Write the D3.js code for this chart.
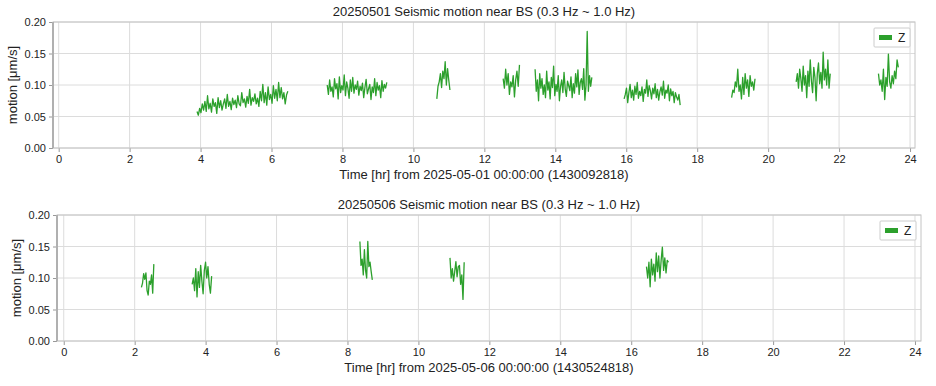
<!DOCTYPE html>
<html>
<head>
<meta charset="utf-8">
<script src="https://cdn.jsdelivr.net/npm/d3@7"></script>
<style>
  body { margin: 0; background: #fff; }
  svg text { font-family: "Liberation Sans", Arial, sans-serif; fill: #222; }
</style>
</head>
<body>
<div id="chart"></div>
<script>
// ---- data (hours from start of day, motion in um/s) ----
var yTicks = [0, 0.05, 0.10, 0.15, 0.20];
var xTicks = [0, 2, 4, 6, 8, 10, 12, 14, 16, 18, 20, 22, 24];

// day 1 : 2025-05-01, segment [start hr, end hr]
var day1Spans = [[3.90, 6.46], [7.57, 9.25], [10.66, 11.03], [12.53, 12.99], [13.43, 15.03],
                 [15.94, 17.52], [18.97, 19.63], [20.79, 21.75], [23.11, 23.67]];
var day1Values = [
  [0.058,0.052,0.063,0.056,0.070,0.060,0.074,0.058,0.083,0.062,0.071,0.057,0.078,0.066,0.072,0.055,0.080,0.064,0.075,0.060,
   0.070,0.078,0.063,0.085,0.066,0.074,0.061,0.079,0.069,0.076,0.064,0.083,0.070,0.067,0.088,0.072,0.078,0.065,0.082,0.071,
   0.093,0.068,0.080,0.074,0.086,0.070,0.079,0.066,0.090,0.075,0.101,0.072,0.088,0.068,0.097,0.077,0.085,0.071,0.099,0.079,
   0.093,0.075,0.104,0.080,0.096,0.078,0.088,0.070,0.084,0.090],
  [0.100,0.085,0.108,0.090,0.097,0.081,0.110,0.094,0.102,0.078,0.113,0.088,0.099,0.092,0.116,0.083,0.105,0.095,0.079,0.108,
   0.090,0.112,0.087,0.100,0.093,0.106,0.084,0.098,0.091,0.103,0.080,0.096,0.109,0.086,0.094,0.101,0.077,0.097,0.088,0.110,
   0.083,0.104,0.092,0.099,0.080,0.107,0.090,0.101,0.095,0.104],
  [0.078,0.098,0.105,0.118,0.096,0.122,0.110,0.137,0.100,0.126,0.108,0.092],
  [0.110,0.095,0.125,0.100,0.118,0.085,0.105,0.097,0.115,0.081,0.108,0.122,0.098,0.132],
  [0.125,0.090,0.108,0.075,0.118,0.095,0.110,0.085,0.100,0.080,0.122,0.092,0.105,0.078,0.112,0.096,0.130,0.083,0.101,0.090,
   0.115,0.075,0.098,0.108,0.088,0.120,0.094,0.082,0.106,0.099,0.091,0.113,0.080,0.102,0.087,0.118,0.097,0.124,0.085,0.104,
   0.110,0.093,0.126,0.076,0.100,0.185,0.090,0.115,0.098,0.112],
  [0.078,0.085,0.095,0.072,0.088,0.101,0.080,0.092,0.076,0.098,0.085,0.104,0.079,0.090,0.083,0.097,0.074,0.093,0.087,0.108,
   0.082,0.099,0.091,0.078,0.095,0.086,0.102,0.080,0.093,0.076,0.089,0.097,0.084,0.106,0.079,0.092,0.087,0.100,0.075,0.094,
   0.083,0.090,0.072,0.088,0.081,0.076,0.085,0.068],
  [0.080,0.092,0.088,0.105,0.097,0.125,0.090,0.100,0.078,0.112,0.085,0.118,0.095,0.108,0.082,0.115,0.098,0.105,0.092,0.110],
  [0.105,0.118,0.095,0.125,0.110,0.090,0.130,0.100,0.115,0.080,0.122,0.098,0.140,0.106,0.088,0.128,0.112,0.075,0.118,0.135,
   0.102,0.120,0.095,0.152,0.108,0.125,0.100,0.140,0.095,0.118],
  [0.118,0.100,0.108,0.090,0.125,0.077,0.112,0.098,0.149,0.105,0.095,0.115,0.102,0.122,0.110,0.140,0.128]
];

// day 2 : 2025-05-06
var day2Spans = [[2.19, 2.54], [3.62, 4.17], [8.35, 8.70], [10.89, 11.29], [16.43, 17.05]];
var day2Values = [
  [0.085,0.092,0.107,0.098,0.108,0.080,0.073,0.095,0.090,0.105,0.076,0.122],
  [0.090,0.100,0.080,0.115,0.070,0.110,0.085,0.120,0.095,0.075,0.112,0.125,0.100,0.118,0.090,0.076,0.103],
  [0.158,0.120,0.130,0.105,0.145,0.112,0.100,0.158,0.118,0.125,0.110,0.097],
  [0.132,0.100,0.115,0.095,0.110,0.126,0.102,0.118,0.120,0.090,0.105,0.066,0.125],
  [0.118,0.100,0.125,0.086,0.130,0.105,0.122,0.095,0.140,0.110,0.135,0.100,0.128,0.149,0.112,0.132,0.108,0.128,0.125]
];

var panels = [
  { title: "20250501 Seismic motion near BS (0.3 Hz ~ 1.0 Hz)",
    xlabel: "Time [hr] from 2025-05-01 00:00:00 (1430092818)",
    spans: day1Spans, values: day1Values,
    left: 53, right: 915, top: 22, bottom: 148, xdom: [-0.16, 24.14] },
  { title: "20250506 Seismic motion near BS (0.3 Hz ~ 1.0 Hz)",
    xlabel: "Time [hr] from 2025-05-06 00:00:00 (1430524818)",
    spans: day2Spans, values: day2Values,
    left: 57, right: 921, top: 215, bottom: 341, xdom: [-0.19, 24.17] }
];

var green = "#2ca02c";
var svg = d3.select("#chart").append("svg").attr("width", 936).attr("height", 386);

panels.forEach(function (p) {
  var x = d3.scaleLinear().domain(p.xdom).range([p.left, p.right]);
  var y = d3.scaleLinear().domain([0, 0.2]).range([p.bottom, p.top]);
  var g = svg.append("g");

  // grid
  g.selectAll(".vg").data(xTicks).enter().append("line")
    .attr("x1", function (d) { return x(d); }).attr("x2", function (d) { return x(d); })
    .attr("y1", p.top).attr("y2", p.bottom)
    .attr("stroke", "#dcdcdc").attr("stroke-width", 1);
  g.selectAll(".hg").data(yTicks).enter().append("line")
    .attr("x1", p.left).attr("x2", p.right)
    .attr("y1", function (d) { return y(d); }).attr("y2", function (d) { return y(d); })
    .attr("stroke", "#dcdcdc").attr("stroke-width", 1);

  // data segments
  var line = d3.line().x(function (d) { return x(d[0]); }).y(function (d) { return y(d[1]); });
  p.spans.forEach(function (s, i) {
    var vals = p.values[i];
    var pts = vals.map(function (v, j) {
      return [s[0] + (s[1] - s[0]) * j / (vals.length - 1), v];
    });
    g.append("path").datum(pts).attr("d", line)
      .attr("fill", "none").attr("stroke", green).attr("stroke-width", 1.3)
      .attr("stroke-linejoin", "round");
  });

  // axes
  var xa = g.append("g").attr("transform", "translate(0," + p.bottom + ")")
    .call(d3.axisBottom(x).tickValues(xTicks).tickFormat(d3.format("d")).tickSize(4).tickPadding(3));
  var ya = g.append("g").attr("transform", "translate(" + p.left + ",0)")
    .call(d3.axisLeft(y).tickValues(yTicks).tickFormat(d3.format(".2f")).tickSize(4).tickPadding(3));
  [xa, ya].forEach(function (a) {
    a.select(".domain").remove();
    a.selectAll(".tick line").attr("stroke", "#999");
    a.selectAll(".tick text").style("font-size", "11px").style("font-family", "Liberation Sans, Arial, sans-serif").attr("fill", "#222");
  });

  // frame
  g.append("rect").attr("x", p.left).attr("y", p.top)
    .attr("width", p.right - p.left).attr("height", p.bottom - p.top)
    .attr("fill", "none").attr("stroke", "#c4c4c4").attr("stroke-width", 1);
  g.append("line").attr("x1", p.left).attr("x2", p.left).attr("y1", p.top).attr("y2", p.bottom)
    .attr("stroke", "#b0b0b0").attr("stroke-width", 2);

  // texts
  g.append("text").attr("x", (p.left + p.right) / 2).attr("y", p.top - 6)
    .attr("text-anchor", "middle").style("font-size", "13px").text(p.title);
  g.append("text").attr("x", (p.left + p.right) / 2).attr("y", p.bottom + 31)
    .attr("text-anchor", "middle").style("font-size", "13px").text(p.xlabel);
  g.append("text")
    .attr("transform", "translate(" + (p.left - 36) + "," + ((p.top + p.bottom) / 2) + ") rotate(-90)")
    .attr("text-anchor", "middle").style("font-size", "13px").text("motion [μm/s]");

  // legend
  var lg = g.append("g").attr("transform", "translate(" + (p.right - 41) + "," + (p.top + 6) + ")");
  lg.append("rect").attr("width", 36).attr("height", 19).attr("rx", 1)
    .attr("fill", "#fff").attr("stroke", "#cccccc");
  lg.append("rect").attr("x", 5).attr("y", 7).attr("width", 13).attr("height", 5).attr("fill", green);
  lg.append("text").attr("x", 24).attr("y", 14).style("font-size", "12px").text("Z");
});
</script>
</body>
</html>
